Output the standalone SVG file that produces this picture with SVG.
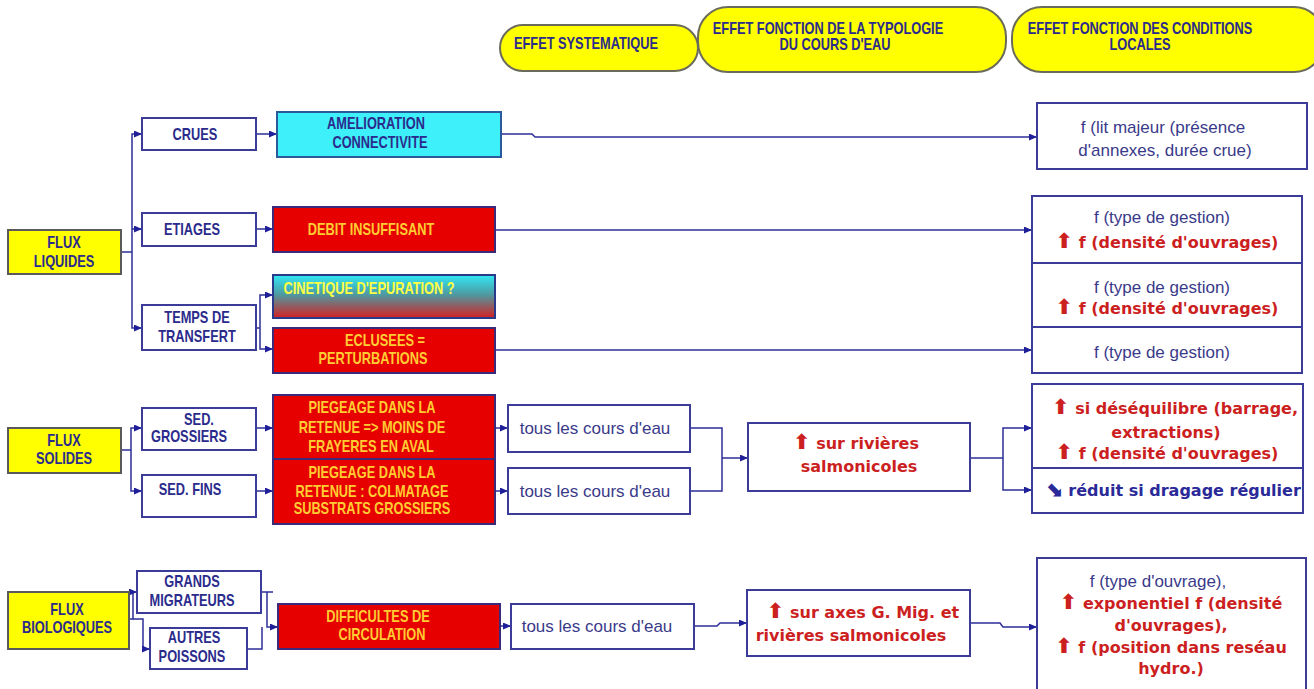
<svg xmlns="http://www.w3.org/2000/svg" width="1314" height="689" viewBox="0 0 1314 689">
<defs>
<marker id="ah" markerUnits="userSpaceOnUse" markerWidth="8" markerHeight="7" refX="8" refY="3.5" orient="auto">
<path d="M0,0 L8,3.5 L0,7 z" fill="#1f1f99"/>
</marker>
<linearGradient id="gcin" x1="0" y1="0" x2="0" y2="1">
<stop offset="0" stop-color="#30e8f5"/>
<stop offset="0.45" stop-color="#4d9aa3"/>
<stop offset="1" stop-color="#d42020"/>
</linearGradient>
<style>
.pill{fill:#ffff00;stroke:#6b6b5b;stroke-width:2}
.nb{fill:#fff;stroke:#3b3b9a;stroke-width:2}
.yb{fill:#ffff00;stroke:#5a5a5a;stroke-width:2}
.rb{fill:#e60000;stroke:#3b2b7a;stroke-width:2}
.cb{fill:#3ef0fa;stroke:#2a5a9a;stroke-width:2}
.gb{fill:url(#gcin);stroke:#2a3a8a;stroke-width:2}
.t{font-family:"Liberation Sans",Arial,sans-serif;font-weight:bold;font-size:16px;fill:#2b2b8c;text-anchor:middle}
.to{fill:#ffcc33}
.ty{fill:#ffff44}
.rt{font-family:"Liberation Sans",Arial,sans-serif;font-size:17px;fill:#3a3a8a;text-anchor:middle}
.bt{font-family:"DejaVu Sans",Verdana,sans-serif;font-weight:bold;font-size:16px;fill:#cc1f1f;text-anchor:middle}
.bb{fill:#2a2a99}
.ar{font-size:21px}
.con{fill:none;stroke:#2e2e99;stroke-width:1.5}
</style>
</defs>
<rect width="1314" height="689" fill="#fff"/>

<g id="h1"><rect class="pill" x="500" y="25" width="198" height="46" rx="23"/><text class="t" transform="translate(586 0) scale(.8 1)" y="49">EFFET SYSTEMATIQUE</text></g>
<g id="h2"><rect class="pill" x="698" y="7" width="308" height="65" rx="30"/><text class="t" transform="translate(828 0) scale(.8 1)" y="34">EFFET FONCTION DE LA TYPOLOGIE</text><text class="t" transform="translate(835 0) scale(.8 1)" y="50">DU COURS D'EAU</text></g>
<g id="h3"><rect class="pill" x="1012" y="7" width="312" height="65" rx="30"/><text class="t" transform="translate(1140 0) scale(.8 1)" y="34">EFFET FONCTION DES CONDITIONS</text><text class="t" transform="translate(1140 0) scale(.8 1)" y="50">LOCALES</text></g>

<g id="connectors">
<path class="con" d="M121,252 H132"/>
<path class="con" marker-end="url(#ah)" d="M132,252 V134 H142"/>
<path class="con" marker-end="url(#ah)" d="M132,229 H142"/>
<path class="con" marker-end="url(#ah)" d="M132,252 V328 H142"/>
<path class="con" marker-end="url(#ah)" d="M256,134 H277"/>
<path class="con" marker-end="url(#ah)" d="M256,229 H273"/>
<path class="con" d="M256,328 H260"/>
<path class="con" marker-end="url(#ah)" d="M260,328 V295 H273"/>
<path class="con" marker-end="url(#ah)" d="M260,328 V349 H273"/>
<path class="con" marker-end="url(#ah)" d="M501,134 H532 L535,137 H1037"/>
<path class="con" marker-end="url(#ah)" d="M495,230 H1032"/>
<path class="con" marker-end="url(#ah)" d="M495,350 H1032"/>

<path class="con" d="M121,450 H131"/>
<path class="con" marker-end="url(#ah)" d="M131,450 V428 H142"/>
<path class="con" marker-end="url(#ah)" d="M131,450 V491 H142"/>
<path class="con" marker-end="url(#ah)" d="M256,428 H273"/>
<path class="con" marker-end="url(#ah)" d="M256,491 H273"/>
<path class="con" marker-end="url(#ah)" d="M495,428 H508"/>
<path class="con" marker-end="url(#ah)" d="M495,491 H508"/>
<path class="con" d="M690,428 H722 V491 H690"/>
<path class="con" marker-end="url(#ah)" d="M722,458 H748"/>
<path class="con" d="M970,458 H1003"/>
<path class="con" marker-end="url(#ah)" d="M1003,458 V428 H1032"/>
<path class="con" marker-end="url(#ah)" d="M1003,458 V490 H1032"/>

<path class="con" marker-end="url(#ah)" d="M129,619 H133 V592 H137"/>
<path class="con" marker-end="url(#ah)" d="M133,619 H143 V649 H150"/>
<path class="con" d="M261,592 H273"/>
<path class="con" marker-end="url(#ah)" d="M267,592 V627 H278"/>
<path class="con" d="M247,649 H262 V627"/>
<path class="con" marker-end="url(#ah)" d="M500,626 H511"/>
<path class="con" marker-end="url(#ah)" d="M694,626 H717 L720,623 H747"/>
<path class="con" marker-end="url(#ah)" d="M970,623 H1000 L1003,627 H1037"/>
</g>

<g id="flux-liquides"><rect class="yb" x="8" y="230" width="113" height="44"/><text class="t" transform="translate(64 0) scale(.8 1)" y="248">FLUX</text><text class="t" transform="translate(64 0) scale(.8 1)" y="267">LIQUIDES</text></g>
<g id="crues"><rect class="nb" x="142" y="118" width="114" height="32"/><text class="t" transform="translate(195 0) scale(.8 1)" y="140">CRUES</text></g>
<g id="etiages"><rect class="nb" x="142" y="213" width="114" height="33"/><text class="t" transform="translate(192 0) scale(.8 1)" y="235">ETIAGES</text></g>
<g id="temps"><rect class="nb" x="142" y="305" width="114" height="45"/><text class="t" transform="translate(197 0) scale(.8 1)" y="323">TEMPS DE</text><text class="t" transform="translate(197 0) scale(.8 1)" y="342">TRANSFERT</text></g>
<g id="amelioration"><rect class="cb" x="277" y="112" width="224" height="45"/><text class="t" transform="translate(376 0) scale(.8 1)" y="129">AMELIORATION</text><text class="t" transform="translate(380 0) scale(.8 1)" y="148">CONNECTIVITE</text></g>
<g id="debit"><rect class="rb" x="273" y="207" width="222" height="45"/><text class="t to" transform="translate(371 0) scale(.8 1)" y="235">DEBIT INSUFFISANT</text></g>
<g id="cinetique"><rect class="gb" x="273" y="275" width="222" height="43"/><text class="t ty" transform="translate(369 0) scale(.8 1)" y="294">CINETIQUE D'EPURATION ?</text></g>
<g id="eclusees"><rect class="rb" x="273" y="328" width="222" height="45"/><text class="t to" transform="translate(385 0) scale(.8 1)" y="346">ECLUSEES =</text><text class="t to" transform="translate(373 0) scale(.8 1)" y="364">PERTURBATIONS</text></g>

<g id="lit-majeur"><rect class="nb" x="1037" y="103" width="270" height="66"/><text class="rt" x="1163" y="133">f (lit majeur (présence</text><text class="rt" x="1165" y="156">d'annexes, durée crue)</text></g>
<g id="gestion1"><rect class="nb" x="1032" y="196" width="270" height="67"/><text class="rt" x="1162" y="223">f (type de gestion)</text><text class="bt" x="1167" y="248"><tspan class="ar">⬆</tspan> f (densité d'ouvrages)</text></g>
<g id="gestion2"><rect class="nb" x="1032" y="263" width="270" height="64"/><text class="rt" x="1162" y="293">f (type de gestion)</text><text class="bt" x="1167" y="314"><tspan class="ar">⬆</tspan> f (densité d'ouvrages)</text></g>
<g id="gestion3"><rect class="nb" x="1032" y="327" width="270" height="46"/><text class="rt" x="1162" y="358">f (type de gestion)</text></g>

<g id="flux-solides"><rect class="yb" x="8" y="428" width="113" height="45"/><text class="t" transform="translate(64 0) scale(.8 1)" y="446">FLUX</text><text class="t" transform="translate(64 0) scale(.8 1)" y="464">SOLIDES</text></g>
<g id="sed-grossiers"><rect class="nb" x="142" y="408" width="114" height="42"/><text class="t" transform="translate(199 0) scale(.8 1)" y="425">SED.</text><text class="t" transform="translate(189 0) scale(.8 1)" y="442">GROSSIERS</text></g>
<g id="sed-fins"><rect class="nb" x="142" y="475" width="114" height="42"/><text class="t" transform="translate(190 0) scale(.8 1)" y="495">SED. FINS</text></g>
<g id="piegeage1"><rect class="rb" x="273" y="395" width="222" height="64"/><text class="t to" transform="translate(372 0) scale(.8 1)" y="413">PIEGEAGE DANS LA</text><text class="t to" transform="translate(372 0) scale(.8 1)" y="433">RETENUE =&gt; MOINS DE</text><text class="t to" transform="translate(371 0) scale(.8 1)" y="452">FRAYERES EN AVAL</text></g>
<g id="piegeage2"><rect class="rb" x="273" y="459" width="222" height="65"/><text class="t to" transform="translate(372 0) scale(.8 1)" y="478">PIEGEAGE DANS LA</text><text class="t to" transform="translate(372 0) scale(.8 1)" y="497">RETENUE : COLMATAGE</text><text class="t to" transform="translate(372 0) scale(.8 1)" y="514">SUBSTRATS GROSSIERS</text></g>
<g id="tous1"><rect class="nb" x="508" y="405" width="182" height="47"/><text class="rt" x="595" y="434">tous les cours d'eau</text></g>
<g id="tous2"><rect class="nb" x="508" y="468" width="182" height="46"/><text class="rt" x="595" y="497">tous les cours d'eau</text></g>
<g id="salmonicoles"><rect class="nb" x="748" y="423" width="222" height="68"/><text class="bt" x="856" y="449"><tspan class="ar">⬆</tspan> sur rivières</text><text class="bt" x="859" y="472">salmonicoles</text></g>
<g id="desequilibre"><rect class="nb" x="1032" y="384" width="271" height="84"/><text class="bt" x="1175" y="414"><tspan class="ar">⬆</tspan> si déséquilibre (barrage,</text><text class="bt" x="1166" y="438">extractions)</text><text class="bt" x="1167" y="459"><tspan class="ar">⬆</tspan> f (densité d'ouvrages)</text></g>
<g id="dragage"><rect class="nb" x="1032" y="468" width="271" height="45"/><text class="bt bb" x="1173" y="496"><tspan class="ar">⬊</tspan> réduit si dragage régulier</text></g>

<g id="flux-bio"><rect class="yb" x="8" y="592" width="121" height="57"/><text class="t" transform="translate(67 0) scale(.8 1)" y="615">FLUX</text><text class="t" transform="translate(67 0) scale(.8 1)" y="633">BIOLOGIQUES</text></g>
<g id="grands"><rect class="nb" x="137" y="571" width="124" height="42"/><text class="t" transform="translate(192 0) scale(.8 1)" y="587">GRANDS</text><text class="t" transform="translate(192 0) scale(.8 1)" y="606">MIGRATEURS</text></g>
<g id="autres"><rect class="nb" x="150" y="628" width="97" height="41"/><text class="t" transform="translate(194 0) scale(.8 1)" y="643">AUTRES</text><text class="t" transform="translate(192 0) scale(.8 1)" y="662">POISSONS</text></g>
<g id="difficultes"><rect class="rb" x="278" y="604" width="222" height="45"/><text class="t to" transform="translate(378 0) scale(.8 1)" y="622">DIFFICULTES DE</text><text class="t to" transform="translate(382 0) scale(.8 1)" y="640">CIRCULATION</text></g>
<g id="tous3"><rect class="nb" x="511" y="604" width="183" height="45"/><text class="rt" x="597" y="632">tous les cours d'eau</text></g>
<g id="axes"><rect class="nb" x="747" y="590" width="223" height="66"/><text class="bt" x="863" y="618"><tspan class="ar">⬆</tspan> sur axes G. Mig. et</text><text class="bt" x="851" y="641">rivières salmonicoles</text></g>
<g id="ouvrage"><rect class="nb" x="1037" y="558" width="269" height="140"/><text class="rt" x="1158" y="587">f (type d'ouvrage),</text><text class="bt" x="1171" y="609"><tspan class="ar">⬆</tspan> exponentiel   f (densité</text><text class="bt" x="1171" y="631">d'ouvrages),</text><text class="bt" x="1171" y="653"><tspan class="ar">⬆</tspan> f (position dans reséau</text><text class="bt" x="1171" y="674">hydro.)</text></g>
</svg>
